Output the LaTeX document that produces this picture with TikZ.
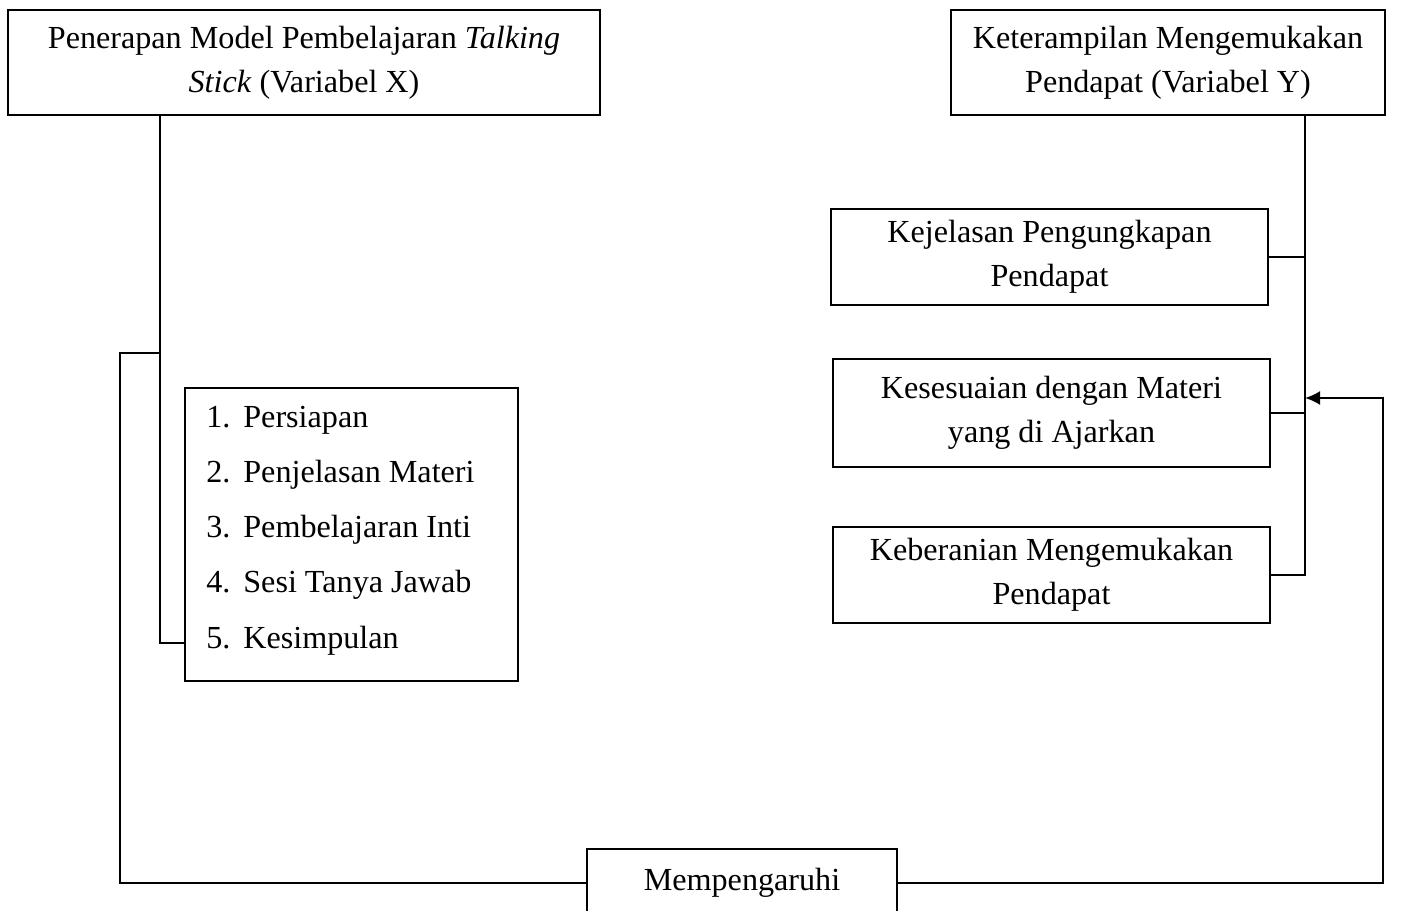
\documentclass[tikz,border=0pt]{standalone}
\usepackage{fontspec}
\setmainfont{Liberation Serif}
\usetikzlibrary{arrows.meta}

\tikzset{
  kotak/.style={draw, line width=0.8pt, align=center, inner sep=0pt,
    font=\fontsize{18.3}{25}\selectfont},
  butir/.style={inner sep=0pt, anchor=base west, font=\fontsize{18.3}{25}\selectfont},
  garis/.style={line width=1.2pt},
}

\begin{document}
\begin{tikzpicture}[x=0.02cm, y=-0.02cm, >={Latex[length=3mm,width=2.8mm]}]
	\path[use as bounding box, clip] (0,0) rectangle (1407,911);
	
	% Variabel X dan Y
	\node[kotak, minimum width=11.84cm, minimum height=2.1cm] (varx) at (304,62.5)
		{Penerapan Model Pembelajaran \textit{Talking}\\\textit{Stick} (Variabel X)};
	\node[kotak, minimum width=8.68cm, minimum height=2.1cm] (vary) at (1168,62.5)
		{Keterampilan Mengemukakan\\Pendapat (Variabel Y)};
	
	% Tahapan talking stick
	\node[kotak, minimum width=6.66cm, minimum height=5.86cm] (tahap) at (351.5,534.5) {};
	\foreach \i/\teks/\yb in {1/Persiapan/428, 2/Penjelasan Materi/483,
		3/Pembelajaran Inti/538, 4/Sesi Tanya Jawab/593, 5/Kesimpulan/649} {
		\node[butir] (no\i) at (206,\yb) {\i.};
		\node[butir] (tahap\i) at (243,\yb) {\teks};
	}
	
	% Indikator variabel Y
	\node[kotak, minimum width=8.74cm, minimum height=1.92cm] (jelas) at (1049.5,257)
		{Kejelasan Pengungkapan\\Pendapat};
	\node[kotak, minimum width=8.74cm, minimum height=2.16cm] (sesuai) at (1051.5,413)
		{Kesesuaian dengan Materi\\yang di Ajarkan};
	\node[kotak, minimum width=8.74cm, minimum height=1.92cm] (berani) at (1051.5,575)
		{Keberanian Mengemukakan\\Pendapat};
	
	% Mempengaruhi
	\node[kotak, minimum width=6.2cm, minimum height=1.36cm] (pengaruh) at (742,883) {Mempengaruhi};
	
	% Garis variabel X
	\coordinate (xbawah) at (160,643);
	\coordinate (xcabang) at (160,353);
	\coordinate (kiriatas) at (120,353);
	\draw[garis] (varx.south -| xbawah) -- (xbawah) -- (xbawah -| tahap.west);
	\draw[garis] (xcabang) -- (kiriatas) -- (kiriatas |- pengaruh.west) -- (pengaruh.west);
	
	% Garis variabel Y
	\coordinate (ytitik) at (1305,115);
	\coordinate (kananatas) at (1383,398);
	\draw[garis] (ytitik) -- (ytitik |- berani.east) -- (berani.east);
	\draw[garis] (jelas.east) -- (jelas.east -| ytitik);
	\draw[garis] (sesuai.east) -- (sesuai.east -| ytitik);
	\draw[garis, ->] (pengaruh.east) -| (kananatas) -- (kananatas -| ytitik);
	
\end{tikzpicture}
\end{document}
